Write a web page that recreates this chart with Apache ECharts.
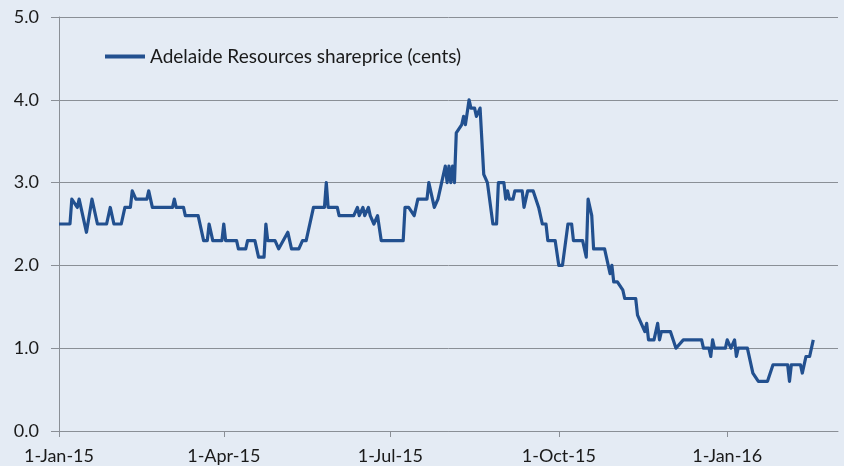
<!DOCTYPE html>
<html>
<head>
<meta charset="utf-8">
<script src="https://cdn.jsdelivr.net/npm/echarts@6/dist/echarts.min.js"></script>
<style>
html,body{margin:0;padding:0;background:#e4ebf4;}
#chart{width:844px;height:466px;}
</style>
</head>
<body>
<div id="chart"></div>
<script>
const seriesName = 'Adelaide Resources shareprice (cents)';
const dates = [
'2015-01-01','2015-01-07','2015-01-08','2015-01-09','2015-01-11','2015-01-12','2015-01-13','2015-01-16','2015-01-19','2015-01-20',
'2015-01-22','2015-01-27','2015-01-29','2015-01-31','2015-02-04','2015-02-06','2015-02-09','2015-02-10','2015-02-12','2015-02-18',
'2015-02-19','2015-02-21','2015-03-04','2015-03-05','2015-03-06','2015-03-10','2015-03-11','2015-03-18','2015-03-21','2015-03-23',
'2015-03-24','2015-03-26','2015-03-31','2015-04-01','2015-04-02','2015-04-08','2015-04-09','2015-04-13','2015-04-14','2015-04-18',
'2015-04-20','2015-04-23','2015-04-24','2015-04-25','2015-04-29','2015-05-01','2015-05-06','2015-05-08','2015-05-12','2015-05-14',
'2015-05-16','2015-05-20','2015-05-26','2015-05-27','2015-05-28','2015-06-02','2015-06-03','2015-06-11','2015-06-13','2015-06-14',
'2015-06-16','2015-06-17','2015-06-19','2015-06-20','2015-06-22','2015-06-24','2015-06-26','2015-07-08','2015-07-09','2015-07-11',
'2015-07-14','2015-07-16','2015-07-21','2015-07-22','2015-07-24','2015-07-25','2015-07-27','2015-07-29','2015-07-31','2015-08-01',
'2015-08-02','2015-08-03','2015-08-04','2015-08-05','2015-08-06','2015-08-07','2015-08-09','2015-08-10','2015-08-11','2015-08-13',
'2015-08-14','2015-08-16','2015-08-17','2015-08-19','2015-08-20','2015-08-21','2015-08-23','2015-08-26','2015-08-28','2015-08-29',
'2015-09-01','2015-09-02','2015-09-03','2015-09-04','2015-09-06','2015-09-07','2015-09-11','2015-09-12','2015-09-14','2015-09-17',
'2015-09-20','2015-09-22','2015-09-24','2015-09-25','2015-09-29','2015-10-01','2015-10-03','2015-10-06','2015-10-08','2015-10-09',
'2015-10-14','2015-10-16','2015-10-17','2015-10-18','2015-10-19','2015-10-20','2015-10-26','2015-10-28','2015-10-29','2015-10-30',
'2015-10-31','2015-11-02','2015-11-05','2015-11-06','2015-11-12','2015-11-13','2015-11-15','2015-11-17','2015-11-18','2015-11-19',
'2015-11-22','2015-11-24','2015-11-25','2015-11-26','2015-12-01','2015-12-04','2015-12-08','2015-12-18','2015-12-19','2015-12-22',
'2015-12-23','2015-12-24','2015-12-25','2015-12-31','2016-01-01','2016-01-03','2016-01-05','2016-01-06','2016-01-07','2016-01-12',
'2016-01-15','2016-01-16','2016-01-18','2016-01-23','2016-01-26','2016-02-03','2016-02-04','2016-02-05','2016-02-10','2016-02-11',
'2016-02-13','2016-02-15','2016-02-17'
];
const prices = [
2.5,2.5,2.8,2.8,2.7,2.8,2.8,2.4,2.8,2.8,
2.5,2.5,2.7,2.5,2.5,2.7,2.7,2.9,2.8,2.8,
2.9,2.7,2.7,2.8,2.7,2.7,2.6,2.6,2.3,2.3,
2.5,2.3,2.3,2.5,2.3,2.3,2.2,2.2,2.3,2.3,
2.1,2.1,2.5,2.3,2.3,2.2,2.4,2.2,2.2,2.3,
2.3,2.7,2.7,3.0,2.7,2.7,2.6,2.6,2.7,2.6,
2.7,2.6,2.7,2.6,2.5,2.6,2.3,2.3,2.7,2.7,
2.6,2.8,2.8,3.0,2.8,2.7,2.8,3.0,3.2,3.0,
3.2,3.0,3.2,3.0,3.6,3.6,3.7,3.8,3.7,4.0,
3.9,3.9,3.8,3.9,3.5,3.1,3.0,2.5,2.5,3.0,
3.0,2.8,2.9,2.8,2.8,2.9,2.9,2.7,2.9,2.9,
2.7,2.5,2.5,2.3,2.3,2.0,2.0,2.5,2.5,2.3,
2.3,2.1,2.8,2.7,2.6,2.2,2.2,2.0,1.9,2.0,
1.8,1.8,1.7,1.6,1.6,1.4,1.3,1.2,1.3,1.1,
1.1,1.3,1.1,1.2,1.2,1.0,1.1,1.1,1.0,1.0,
0.9,1.1,1.0,1.0,1.1,1.0,1.1,0.9,1.0,1.0,
0.7,0.7,0.6,0.6,0.8,0.8,0.6,0.8,0.8,0.7,
0.9,0.9,1.1
];
const tickDates = ['2015-01-01','2015-04-01','2015-07-01','2015-10-01','2016-01-01'];
const tickLabels = ['1-Jan-15','1-Apr-15','1-Jul-15','1-Oct-15','1-Jan-16'];
const xStart = '2015-01-01';
const xEnd = '2016-03-01';

function ts(s){ const p = s.split('-').map(Number); return Date.UTC(p[0], p[1]-1, p[2]); }
const tickTs = tickDates.map(ts);
const font = 'Lato';

const chart = echarts.init(document.getElementById('chart'), null, {renderer:'canvas'});
chart.setOption({
  backgroundColor: '#e4ebf4',
  animation: false,
  grid: {left: 59, right: 6, top: 17, bottom: 35, containLabel: false},
  legend: {
    left: 100, top: 42,
    data: [{name: seriesName, icon: 'rect'}],
    itemWidth: 40, itemHeight: 4, itemGap: 4,
    textStyle: {fontFamily: font, fontSize: 19, color: '#1a1a1a'}
  },
  xAxis: {
    type: 'value',
    min: ts(xStart), max: ts(xEnd) + 12*3600*1000,
    axisLine: {show: true, lineStyle: {color: '#8a8f96', width: 1}},
    axisTick: {show: true, customValues: tickTs, length: 6, lineStyle: {color: '#8a8f96'}},
    axisLabel: {
      customValues: tickTs,
      fontFamily: font, fontSize: 18, color: '#1a1a1a', margin: 16,
      formatter: function(v){ const i = tickTs.indexOf(v); return i >= 0 ? tickLabels[i] : ''; }
    },
    splitLine: {show: false}
  },
  yAxis: {
    type: 'value', min: 0, max: 5, interval: 1,
    axisLine: {show: true, lineStyle: {color: '#8a8f96', width: 1}},
    axisTick: {show: true, length: 8, lineStyle: {color: '#8a8f96'}},
    axisLabel: {fontFamily: font, fontSize: 18, color: '#1a1a1a', margin: 20,
      formatter: function(v){ return v.toFixed(1); }},
    splitLine: {show: true, lineStyle: {color: '#8a8f96', width: 1}}
  },
  series: [{
    name: seriesName,
    type: 'line',
    data: dates.map((d, i) => [ts(d), prices[i]]),
    symbol: 'none',
    lineStyle: {color: '#22508f', width: 3.2, join: 'round'},
    itemStyle: {color: '#22508f'}
  }]
});
</script>
</body>
</html>
